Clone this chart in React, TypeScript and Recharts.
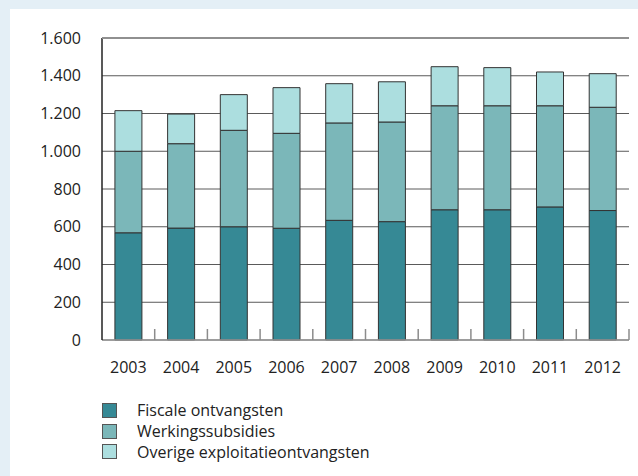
import React from 'react';
import { BarChart, Bar, XAxis, YAxis, CartesianGrid } from 'recharts';

const years = ['2003', '2004', '2005', '2006', '2007', '2008', '2009', '2010', '2011', '2012'];
const fiscale = [568, 593, 600, 592, 634, 627, 690, 690, 705, 686];
const werkings = [432, 447, 511, 503, 516, 528, 551, 551, 536, 547];
const overige = [215, 157, 189, 242, 208, 213, 207, 202, 179, 178];
const yTicks = [0, 200, 400, 600, 800, 1000, 1200, 1400, 1600];

const SERIES = [
    { key: 'fiscale', name: 'Fiscale ontvangsten', color: '#368995' },
    { key: 'werkings', name: 'Werkingssubsidies', color: '#7bb7b9' },
    { key: 'overige', name: 'Overige exploitatieontvangsten', color: '#acdedf' },
];

const data = years.map((year, i) => ({
    year,
    fiscale: fiscale[i],
    werkings: werkings[i],
    overige: overige[i],
}));

const FONT = '"Open Sans", "Noto Sans", sans-serif';
const PLOT_LEFT = 102;
const PLOT_RIGHT = 629;
const PLOT_BOTTOM = 340;
const STEP = (PLOT_RIGHT - PLOT_LEFT) / years.length;

const fmt = (v: number) => v.toLocaleString('de-DE');

// label centred under the bar, small upward tick on the category boundary
const renderXTick = (props: any) => {
    const { x, payload } = props;
    const bx = x + STEP / 2;
    return (
        <g key={`xt-${payload.value}`}>
            <line x1={bx} x2={bx} y1={PLOT_BOTTOM} y2={PLOT_BOTTOM - 11} stroke="#8c8c8c" strokeWidth={1.5} />
            <text x={x} y={372.5} textAnchor="middle" fill="#222" fontSize={16} fontFamily={FONT}>
                {payload.value}
            </text>
        </g>
    );
};

const App: React.FC = () => {
    return (
        <div style={{ position: 'absolute', left: 0, top: 0, width: 638, height: 476, background: '#e4eff6' }}>
            <div style={{ position: 'absolute', left: 10, top: 9, width: 628, height: 467, background: '#fff' }} />
            <div style={{ position: 'absolute', left: 0, top: 0 }}>
                <BarChart
                    width={638}
                    height={476}
                    data={data}
                    barCategoryGap="24.5%"
                    margin={{ top: 38, right: 9, left: 0, bottom: 106 }}
                >
                    <CartesianGrid vertical={false} stroke="#5a5a5a" strokeWidth={1} />
                    <XAxis
                        dataKey="year"
                        height={30}
                        stroke="#999"
                        strokeWidth={1.5}
                        tickLine={false}
                        tick={renderXTick}
                    />
                    <YAxis
                        width={102}
                        domain={[0, 1600]}
                        ticks={yTicks}
                        tickFormatter={fmt}
                        stroke="#222"
                        strokeWidth={1.5}
                        tickLine={false}
                        tickSize={0}
                        tickMargin={21}
                        tick={{ fill: '#222', fontSize: 16, fontFamily: FONT }}
                    />
                    {SERIES.map((s) => (
                        <Bar
                            key={s.key}
                            dataKey={s.key}
                            name={s.name}
                            stackId="a"
                            fill={s.color}
                            stroke="#333"
                            strokeWidth={1}
                            isAnimationActive={false}
                        />
                    ))}
                </BarChart>
            </div>
            {/* top gridline is lighter and thicker in the original */}
            <div style={{ position: 'absolute', left: PLOT_LEFT, top: 37, width: PLOT_RIGHT - PLOT_LEFT, height: 2, background: '#909090' }} />
            <div style={{ position: 'absolute', left: 102, top: 400, fontFamily: FONT, fontSize: 16, color: '#222' }}>
                {SERIES.map((s) => (
                    <div key={s.key} style={{ display: 'flex', alignItems: 'center', height: 20.7 }}>
                        <span
                            style={{
                                display: 'inline-block',
                                width: 13,
                                height: 13,
                                background: s.color,
                                border: '1px solid #555',
                                marginRight: 20,
                            }}
                        />
                        <span style={{ lineHeight: '16px' }}>{s.name}</span>
                    </div>
                ))}
            </div>
        </div>
    );
};

export default App;
